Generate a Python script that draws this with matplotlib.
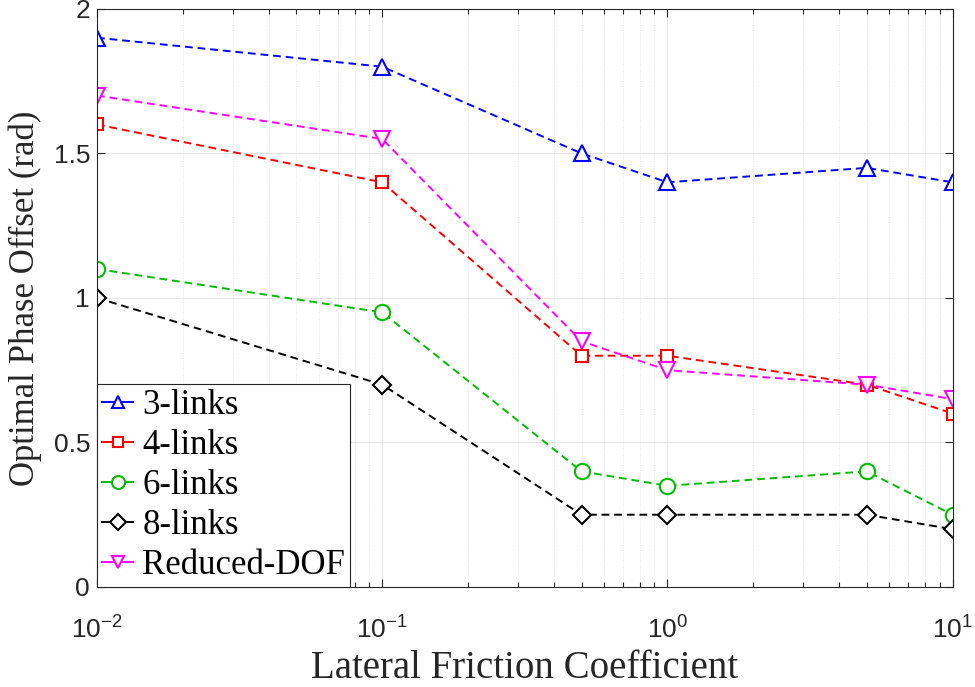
import matplotlib
matplotlib.use("Agg")
import matplotlib.pyplot as plt
import matplotlib.ticker as mtick
import numpy as np

# --- Data ---
friction = [0.01, 0.1, 0.5, 1, 5, 10]
series_names = ["3-links", "4-links", "6-links", "8-links", "Reduced-DOF"]
phase_3 = [1.9, 1.8, 1.5, 1.4, 1.45, 1.4]
phase_4 = [1.6, 1.4, 0.8, 0.8, 0.7, 0.6]
phase_6 = [1.1, 0.95, 0.4, 0.35, 0.4, 0.25]
phase_8 = [1.0, 0.7, 0.25, 0.25, 0.25, 0.2]
phase_red = [1.7, 1.55, 0.85, 0.75, 0.7, 0.65]
y_ticks = [0, 0.5, 1, 1.5, 2]
y_ticklabels = ["0", "0.5", "1", "1.5", "2"]

SERIF = ["Liberation Serif", "DejaVu Serif"]
SANS = ["Liberation Sans", "DejaVu Sans"]

plt.rcParams.update({
    "mathtext.fontset": "custom",
    "mathtext.rm": "Liberation Sans",
    "mathtext.it": "Liberation Sans:italic",
    "mathtext.bf": "Liberation Sans:bold",
})

styles = [
    ("#0000FF", "^"),
    ("#FF0000", "s"),
    ("#00BF00", "o"),
    ("#000000", "D"),
    ("#FF00FF", "v"),
]
msizes = [11, 9, 11, 9, 11]

fig = plt.figure(figsize=(9.75, 6.87), dpi=100)
ax = fig.add_axes([0.0995, 0.1456, 0.8775, 0.8415])

for name, vals, (c, m), ms in zip(series_names,
                                   [phase_3, phase_4, phase_6, phase_8, phase_red],
                                   styles, msizes):
    ax.plot(friction, vals, linestyle=(0, (4, 2.5)), color=c, linewidth=1.4,
            marker=m, markersize=ms, markerfacecolor="white",
            markeredgecolor=c, markeredgewidth=1.5, label=name)

ax.set_xscale("log")
ax.set_xlim(0.01, 10)
ax.set_ylim(0, 2)
ax.set_yticks(y_ticks)
ax.set_yticklabels(y_ticklabels)
ax.xaxis.set_minor_locator(mtick.LogLocator(base=10, subs=np.arange(2, 10)))
ax.xaxis.set_minor_formatter(mtick.NullFormatter())

ax.grid(True, which="major", color="#e6e6e6", linewidth=0.8)
ax.grid(True, which="minor", axis="x", color="#e6e6e6", linewidth=0.7,
        linestyle=(0, (1, 1.5)))
ax.set_axisbelow(True)

ax.tick_params(which="both", direction="in", top=True, right=True,
               colors="#262626", labelsize=19)
ax.tick_params(axis="x", which="major", pad=21)
ax.tick_params(axis="y", which="major", pad=5)
ax.tick_params(which="major", length=6, width=0.8)
ax.tick_params(which="minor", length=3.5, width=0.8)
for lab in ax.get_xticklabels() + ax.get_yticklabels():
    lab.set_family(SANS)
for sp in ax.spines.values():
    sp.set_color("#262626")
    sp.set_linewidth(0.8)

ax.set_xlabel("Lateral Friction Coefficient", fontsize=28, family=SERIF,
              color="#262626", labelpad=5)
ax.set_ylabel("Optimal Phase Offset (rad)", fontsize=25, family=SERIF,
              color="#262626", labelpad=8)

leg = ax.legend(loc="lower left", bbox_to_anchor=(0, 0), prop={"family": SERIF, "size": 25},
                fancybox=False, framealpha=1, edgecolor="#262626",
                borderaxespad=0, handlelength=0.9, handletextpad=0.25,
                labelspacing=0.2, borderpad=0.15, markerscale=0.85)
leg.get_frame().set_linewidth(0.8)
for h in leg.legend_handles:
    h.set_linestyle("-")

fig.savefig("out.png", dpi=100)
